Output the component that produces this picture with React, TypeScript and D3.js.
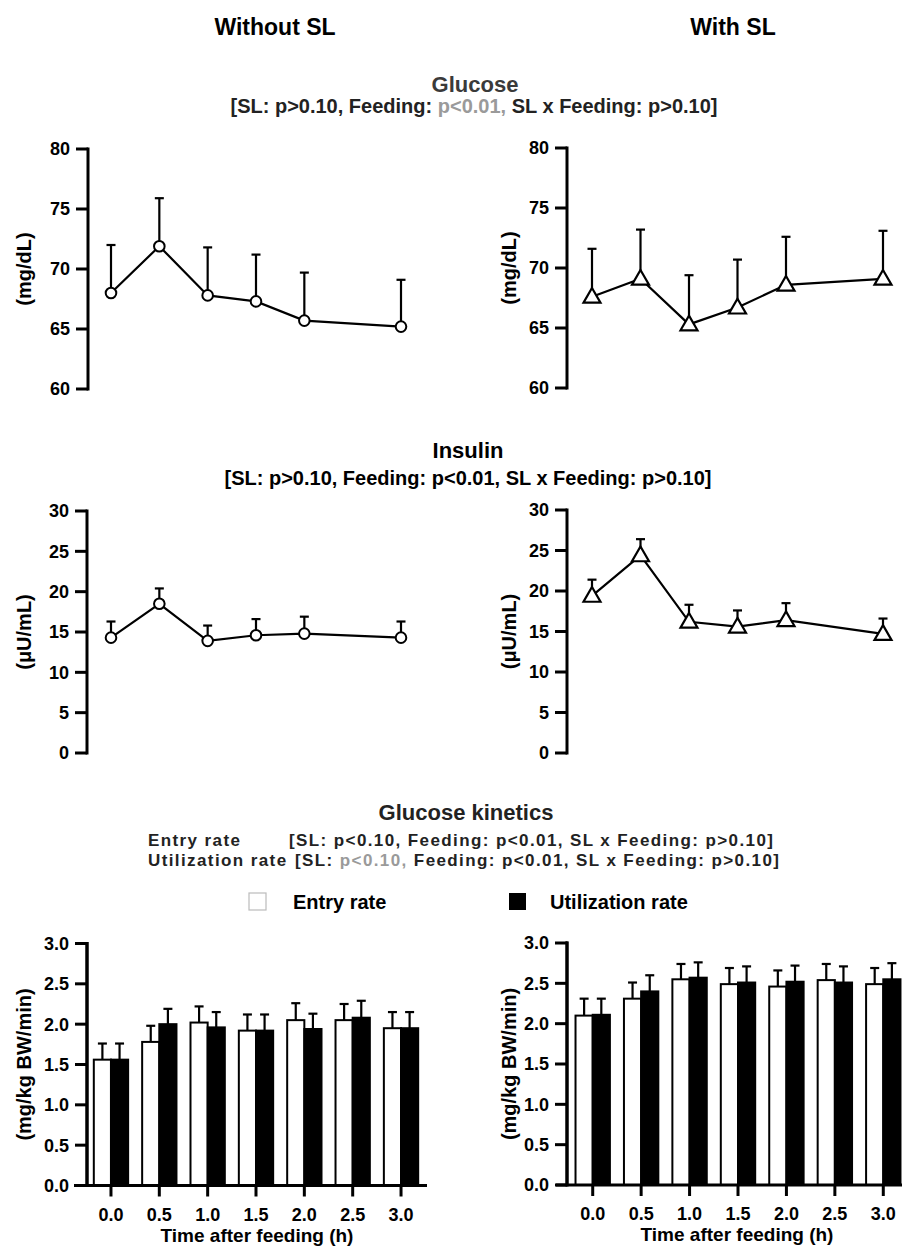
import React from "react";
import * as d3 from "d3";

// ---------- DATA ----------
const glucoseTimes = [0, 0.5, 1, 1.5, 2, 3];
const glucoseWithout = [68.0, 71.9, 67.8, 67.3, 65.7, 65.2];
const glucoseWithoutErr = [72.0, 75.9, 71.8, 71.2, 69.7, 69.1];
const glucoseWith = [67.6, 69.1, 65.3, 66.7, 68.6, 69.1];
const glucoseWithErr = [71.6, 73.2, 69.4, 70.7, 72.6, 73.1];

const insulinWithout = [14.3, 18.5, 13.9, 14.6, 14.8, 14.3];
const insulinWithoutErr = [16.3, 20.4, 15.8, 16.6, 16.9, 16.3];
const insulinWith = [19.4, 24.4, 16.2, 15.6, 16.4, 14.7];
const insulinWithErr = [21.4, 26.4, 18.3, 17.6, 18.5, 16.6];

const barCategories = ["0.0", "0.5", "1.0", "1.5", "2.0", "2.5", "3.0"];
const entryWithout = [1.56, 1.78, 2.02, 1.92, 2.05, 2.05, 1.95];
const entryWithoutErr = [1.76, 1.98, 2.22, 2.12, 2.26, 2.25, 2.15];
const utilWithout = [1.56, 2.0, 1.96, 1.92, 1.94, 2.08, 1.95];
const utilWithoutErr = [1.76, 2.19, 2.15, 2.12, 2.13, 2.29, 2.15];
const entryWith = [2.1, 2.31, 2.55, 2.49, 2.46, 2.54, 2.49];
const entryWithErr = [2.31, 2.51, 2.74, 2.69, 2.66, 2.74, 2.69];
const utilWith = [2.11, 2.4, 2.57, 2.51, 2.52, 2.51, 2.55];
const utilWithErr = [2.31, 2.6, 2.76, 2.71, 2.72, 2.71, 2.75];

const glucoseTicks = [60, 65, 70, 75, 80];
const insulinTicks = [0, 5, 10, 15, 20, 25, 30];
const barTicks = [0, 0.5, 1, 1.5, 2, 2.5, 3];

const FONT = "'Liberation Sans', Arial, Helvetica, sans-serif";

type YAxisProps = {
  x: number;
  scale: d3.ScaleLinear<number, number>;
  ticks: number[];
  fmt: (v: number) => string;
  label: string;
  labelX: number;
};

function YAxis({ x, scale, ticks, fmt, label, labelX }: YAxisProps) {
  const [d0, d1] = scale.domain();
  const yTop = scale(d1);
  const yBot = scale(d0);
  return (
    <g>
      <line x1={x} x2={x} y1={yTop - 1.5} y2={yBot + 1.5} stroke="#000" strokeWidth={3} />
      {ticks.map((t) => (
        <g key={t}>
          <line x1={x - 12} x2={x} y1={scale(t)} y2={scale(t)} stroke="#000" strokeWidth={3} />
          <text
            x={x - 18}
            y={scale(t)}
            dy="0.36em"
            textAnchor="end"
            fontSize={18}
            fontWeight="bold"
            fontFamily={FONT}
          >
            {fmt(t)}
          </text>
        </g>
      ))}
      <text
        transform={`translate(${labelX},${(yTop + yBot) / 2}) rotate(-90)`}
        textAnchor="middle"
        dy="0.36em"
        fontSize={20}
        fontWeight="bold"
        fontFamily={FONT}
      >
        {label}
      </text>
    </g>
  );
}

type LineProps = {
  xs: d3.ScaleLinear<number, number>;
  ys: d3.ScaleLinear<number, number>;
  values: number[];
  errs: number[];
  marker: "circle" | "triangle";
};

function LinePanel({ xs, ys, values, errs, marker }: LineProps) {
  const pts = glucoseTimes.map((t, i) => [xs(t), ys(values[i])] as [number, number]);
  const path = d3.line()(pts) || "";
  const tri = d3.symbol().type(d3.symbolTriangle).size(125)() || "";
  return (
    <g>
      {pts.map(([px, py], i) => (
        <g key={"e" + i}>
          <line x1={px} x2={px} y1={py} y2={ys(errs[i])} stroke="#000" strokeWidth={2.2} />
          <line x1={px - 4.5} x2={px + 4.5} y1={ys(errs[i])} y2={ys(errs[i])} stroke="#000" strokeWidth={2.2} />
        </g>
      ))}
      <path d={path} fill="none" stroke="#000" strokeWidth={2.2} />
      {pts.map(([px, py], i) =>
        marker === "circle" ? (
          <circle key={"m" + i} cx={px} cy={py} r={5.3} fill="#fff" stroke="#000" strokeWidth={2} />
        ) : (
          <path key={"m" + i} d={tri} transform={`translate(${px},${py + 1})`} fill="#fff" stroke="#000" strokeWidth={2.2} />
        )
      )}
    </g>
  );
}

type BarProps = {
  xb: d3.ScaleBand<string>;
  ys: d3.ScaleLinear<number, number>;
  entry: number[];
  entryErr: number[];
  util: number[];
  utilErr: number[];
  axisX: number;
  lineX1: number;
  lineX2: number;
  labelCx: number;
};

function BarPanel({ xb, ys, entry, entryErr, util, utilErr, axisX, lineX1, lineX2, labelCx }: BarProps) {
  const bw = xb.bandwidth() * 0.355;
  const y0 = ys(0);
  return (
    <g>
      {barCategories.map((c, i) => {
        const cx = (xb(c) as number) + xb.bandwidth() / 2;
        const wx = cx - bw;
        const bx = cx;
        return (
          <g key={c}>
            <line x1={wx + bw / 2} x2={wx + bw / 2} y1={ys(entry[i])} y2={ys(entryErr[i])} stroke="#000" strokeWidth={2.2} />
            <line x1={wx + bw / 2 - 4.5} x2={wx + bw / 2 + 4.5} y1={ys(entryErr[i])} y2={ys(entryErr[i])} stroke="#000" strokeWidth={2.2} />
            <line x1={bx + bw / 2} x2={bx + bw / 2} y1={ys(util[i])} y2={ys(utilErr[i])} stroke="#000" strokeWidth={2.2} />
            <line x1={bx + bw / 2 - 4.5} x2={bx + bw / 2 + 4.5} y1={ys(utilErr[i])} y2={ys(utilErr[i])} stroke="#000" strokeWidth={2.2} />
            <rect x={wx} y={ys(entry[i])} width={bw} height={y0 - ys(entry[i])} fill="#fff" stroke="#000" strokeWidth={2} />
            <rect x={bx} y={ys(util[i])} width={bw} height={y0 - ys(util[i])} fill="#000" stroke="#000" strokeWidth={2} />
            <line x1={cx} x2={cx} y1={y0} y2={y0 + 11} stroke="#000" strokeWidth={3} />
            <text x={cx} y={y0 + 35} textAnchor="middle" fontSize={18} fontWeight="bold" fontFamily={FONT}>
              {c}
            </text>
          </g>
        );
      })}
      <line x1={lineX1} x2={lineX2} y1={y0} y2={y0} stroke="#000" strokeWidth={3} />
      <text x={labelCx} y={y0 + 56} textAnchor="middle" fontSize={19} fontWeight="bold" fontFamily={FONT}>
        Time after feeding (h)
      </text>
      <line x1={axisX} x2={axisX} y1={ys(3) - 1.5} y2={y0} stroke="#000" strokeWidth={3} />
    </g>
  );
}

export default function App() {
  const W = 902;
  const H = 1248;

  const gxL = d3.scaleLinear().domain([0, 3]).range([111, 401]);
  const gxR = d3.scaleLinear().domain([0, 3]).range([592, 883]);
  const gyL = d3.scaleLinear().domain([60, 80]).range([389, 149]);
  const gyR = d3.scaleLinear().domain([60, 80]).range([388, 148]);
  const iyL = d3.scaleLinear().domain([0, 30]).range([753, 511]);
  const iyR = d3.scaleLinear().domain([0, 30]).range([753, 510]);
  const byL = d3.scaleLinear().domain([0, 3]).range([1185.5, 943.5]);
  const byR = d3.scaleLinear().domain([0, 3]).range([1185, 943]);
  const bxL = d3.scaleBand<string>().domain(barCategories).range([86.8, 425.2]).padding(0);
  const bxR = d3.scaleBand<string>().domain(barCategories).range([568.5, 907.5]).padding(0);

  const f0 = (v: number) => d3.format("d")(v);
  const f1 = (v: number) => d3.format(".1f")(v);

  const txt = (x: number, y: number, s: any, size: number, anchor = "middle", extra: any = {}) => (
    <text x={x} y={y} textAnchor={anchor} fontSize={size} fontWeight="bold" fontFamily={FONT} {...extra}>
      {s}
    </text>
  );

  const rowStyle = { fill: "#222", letterSpacing: 1.4 };

  return (
    <svg
      width={W}
      height={H}
      viewBox={`0 0 ${W} ${H}`}
      style={{ position: "absolute", left: 0, top: 0, background: "#fff" }}
    >
      <rect x={0} y={0} width={W} height={H} fill="#fff" />
      {txt(275, 35, "Without SL", 23)}
      {txt(733, 35, "With SL", 23)}

      {txt(475, 92, "Glucose", 22, "middle", { fill: "#3a3a3a" })}
      {txt(
        474,
        113,
        <>
          [SL: p&gt;0.10, Feeding: <tspan fill="#9a9a9a">p&lt;0.01,</tspan> SL x Feeding: p&gt;0.10]
        </>,
        20,
        "middle",
        { fill: "#222" }
      )}

      <YAxis x={88} scale={gyL} ticks={glucoseTicks} fmt={f0} label="(mg/dL)" labelX={24} />
      <LinePanel xs={gxL} ys={gyL} values={glucoseWithout} errs={glucoseWithoutErr} marker="circle" />
      <YAxis x={567} scale={gyR} ticks={glucoseTicks} fmt={f0} label="(mg/dL)" labelX={509} />
      <LinePanel xs={gxR} ys={gyR} values={glucoseWith} errs={glucoseWithErr} marker="triangle" />

      {txt(468, 458, "Insulin", 22)}
      {txt(468, 485, "[SL: p>0.10, Feeding: p<0.01, SL x Feeding: p>0.10]", 20)}

      <YAxis x={87} scale={iyL} ticks={insulinTicks} fmt={f0} label="(μU/mL)" labelX={24} />
      <LinePanel xs={gxL} ys={iyL} values={insulinWithout} errs={insulinWithoutErr} marker="circle" />
      <YAxis x={567} scale={iyR} ticks={insulinTicks} fmt={f0} label="(μU/mL)" labelX={509} />
      <LinePanel xs={gxR} ys={iyR} values={insulinWith} errs={insulinWithErr} marker="triangle" />

      {txt(466, 820, "Glucose kinetics", 22, "middle", { fill: "#222" })}
      {txt(148, 846, "Entry rate", 17, "start", rowStyle)}
      {txt(289, 846, "[SL: p<0.10, Feeding: p<0.01, SL x Feeding: p>0.10]", 17, "start", rowStyle)}
      {txt(148, 866, "Utilization rate", 17, "start", rowStyle)}
      {txt(
        295,
        866,
        <>
          [SL: <tspan fill="#9a9a9a">p&lt;0.10,</tspan> Feeding: p&lt;0.01, SL x Feeding: p&gt;0.10]
        </>,
        17,
        "start",
        rowStyle
      )}

      <rect x={249} y={893} width={17} height={17} fill="#fff" stroke="#bbb" strokeWidth={1.2} />
      {txt(293, 909, "Entry rate", 20, "start")}
      <rect x={509} y={893} width={17} height={17} fill="#000" />
      {txt(550, 909, "Utilization rate", 20, "start")}

      <YAxis x={87} scale={byL} ticks={barTicks} fmt={f1} label="(mg/kg BW/min)" labelX={24} />
      <BarPanel xb={bxL} ys={byL} entry={entryWithout} entryErr={entryWithoutErr} util={utilWithout} utilErr={utilWithoutErr} axisX={87} lineX1={74} lineX2={427} labelCx={257} />
      <YAxis x={567} scale={byR} ticks={barTicks} fmt={f1} label="(mg/kg BW/min)" labelX={509} />
      <BarPanel xb={bxR} ys={byR} entry={entryWith} entryErr={entryWithErr} util={utilWith} utilErr={utilWithErr} axisX={567} lineX1={556} lineX2={902} labelCx={737} />
    </svg>
  );
}
